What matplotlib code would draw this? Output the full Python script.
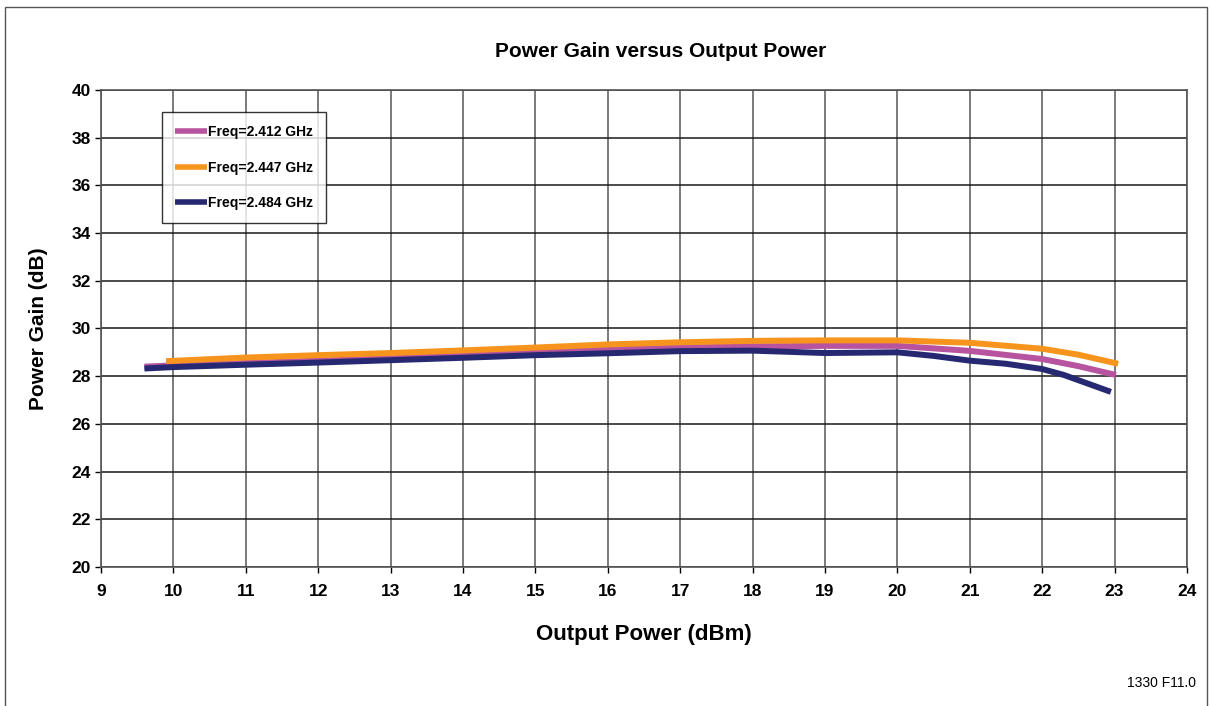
import matplotlib
matplotlib.use("Agg")
import matplotlib.pyplot as plt
from matplotlib.patches import Rectangle

plt.rcParams['font.family'] = ['Liberation Sans', 'DejaVu Sans']

# Data
x_2412 = [9.6, 10, 11, 12, 13, 14, 15, 16, 17, 18, 19, 20, 21, 22, 22.5, 23.02]
y_2412 = [28.4, 28.45, 28.55, 28.65, 28.75, 28.88, 29.0, 29.12, 29.2, 29.25, 29.27, 29.27, 29.06, 28.72, 28.42, 28.05]

x_2447 = [9.9, 11, 12, 13, 14, 15, 16, 17, 18, 19, 20, 21, 22, 22.5, 23.05]
y_2447 = [28.63, 28.78, 28.88, 28.97, 29.08, 29.2, 29.33, 29.42, 29.48, 29.5, 29.5, 29.4, 29.15, 28.9, 28.52]

x_2484 = [9.6, 10, 11, 12, 13, 14, 15, 16, 17, 18, 19, 20, 20.5, 21, 21.5, 22, 22.3, 22.95]
y_2484 = [28.32, 28.38, 28.48, 28.57, 28.67, 28.77, 28.88, 28.96, 29.05, 29.07, 28.97, 29.0, 28.85, 28.65, 28.52, 28.3, 28.05, 27.34]

labels = ["Freq=2.412 GHz", "Freq=2.447 GHz", "Freq=2.484 GHz"]
colors = ["#B8539F", "#F7941D", "#262872"]

x_ticks = list(range(9, 25))
y_ticks = list(range(20, 41, 2))

fig = plt.figure(figsize=(12.12, 7.06), dpi=100)
ax = fig.add_axes([0.0833, 0.197, 0.8960, 0.6755])

series = [(x_2412, y_2412), (x_2447, y_2447), (x_2484, y_2484)]
handles = []
for (xs, ys), lab, c in zip(series, labels, colors):
    h, = ax.plot(xs, ys, color=c, lw=4.3, label=lab, solid_capstyle='butt', zorder=3)
    handles.append(h)

ax.set_xlim(9, 24)
ax.set_ylim(20, 40)
ax.set_xticks(x_ticks)
ax.set_yticks(y_ticks)
ax.tick_params(axis='both', labelsize=12.5, length=4, width=1, direction='out')
ax.tick_params(axis='x', pad=8)
ax.tick_params(axis='y', pad=3)
for t in ax.get_xticklabels() + ax.get_yticklabels():
    t.set_fontweight('bold')
ax.xaxis.grid(True, color='#707070', lw=1.3)
ax.yaxis.grid(True, color='#1a1a1a', lw=1.1)
ax.set_axisbelow(True)
for s in ax.spines.values():
    s.set_color('#555555')
    s.set_linewidth(1.2)

ax.set_xlabel("Output Power (dBm)", fontsize=16, fontweight='bold', labelpad=18)
ax.set_ylabel("Power Gain (dB)", fontsize=15, fontweight='bold', labelpad=17)
fig.text(0.545, 0.927, "Power Gain versus Output Power", ha='center', va='center',
         fontsize=15, fontweight='bold')

leg = ax.legend(handles=handles, loc='upper left', bbox_to_anchor=(0.056, 0.954),
                borderaxespad=0, prop={'weight': 'bold', 'size': 10}, frameon=True,
                fancybox=False, edgecolor='black', handlelength=2.3, handletextpad=0.05,
                labelspacing=1.55, borderpad=0.95)
leg.get_frame().set_linewidth(1.0)
for lh in leg.get_lines():
    lh.set_linewidth(4)

fig.text(0.987, 0.032, "1330 F11.0", ha='right', va='center', fontsize=10)

fig.patches.append(Rectangle((0.004, -0.01), 0.992, 1.0, transform=fig.transFigure,
                             fill=False, edgecolor='#555555', lw=1.0))

fig.savefig("out.png", dpi=100)
